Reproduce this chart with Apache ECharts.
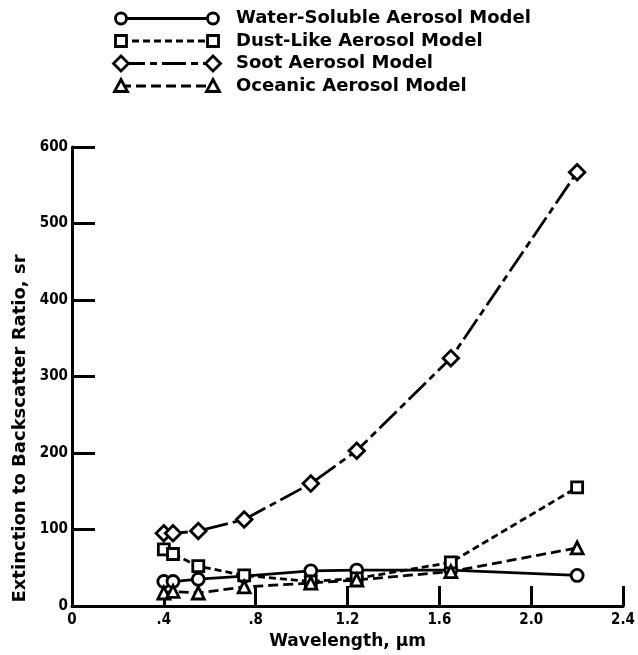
<!DOCTYPE html>
<html>
<head>
<meta charset="utf-8">
<script src="https://cdn.jsdelivr.net/npm/echarts@6/dist/echarts.min.js"></script>
<style>
  html, body { margin: 0; padding: 0; background: #fff; }
  #chart { width: 638px; height: 655px; }
</style>
</head>
<body>
<div id="chart"></div>
<script>
// wavelength (um) and extinction-to-backscatter ratio (sr)
const wavelengths = [0.40, 0.44, 0.55, 0.75, 1.04, 1.24, 1.65, 2.20];
const waterSoluble = [32, 32, 35, 39, 46, 47, 47, 40];
const dustLike = [74, 68, 52, 40, 32, 36, 57, 155];
const soot = [95, 95, 98, 113, 160, 203, 324, 567];
const oceanic = [17, 19, 17, 25, 30, 34, 45, 76];

const xTickLabels = ['0', '.4', '.8', '1.2', '1.6', '2.0', '2.4'];
const yTickLabels = ['0', '100', '200', '300', '400', '500', '600'];

const seriesNames = [
    'Water-Soluble Aerosol Model',
    'Dust-Like Aerosol Model',
    'Soot Aerosol Model',
    'Oceanic Aerosol Model'
];

const FONT = '"DejaVu Sans", sans-serif';
const FONT_NUM = '"DejaVu Sans Condensed", "DejaVu Sans", sans-serif';
const dashes = {
    solid: 'solid',
    dust: [7, 4],
    soot: [24, 5, 7, 5],
    ocean: [10, 5]
};

function pairs(vals) {
    return wavelengths.map((w, i) => [w, vals[i]]);
}

function lineSeries(name, vals, symbol, size, dash, rotate) {
    return {
        name: name,
        type: 'line',
        data: pairs(vals),
        symbol: symbol,
        symbolSize: size,
        symbolRotate: rotate || 0,
        showAllSymbol: true,
        lineStyle: { color: '#000', width: 2.8, type: dash },
        itemStyle: { color: '#fff', borderColor: '#000', borderWidth: 2.8 },
        emphasis: { disabled: true },
        animation: false
    };
}

// legend drawn by hand: marker -- line -- marker, text
function legendRow(i, y, dash, marker) {
    const x1 = 121, x2 = 213;
    const els = [{
        type: 'line',
        shape: { x1: x1, y1: y, x2: x2, y2: y },
        style: { stroke: '#000', lineWidth: 2.8, lineDash: dash === 'solid' ? null : dash }
    }];
    [x1, x2].forEach(function (cx) {
        let m;
        if (marker === 'circle') {
            m = { type: 'circle', shape: { cx: cx, cy: y, r: 5.5 } };
        } else if (marker === 'square') {
            m = { type: 'rect', shape: { x: cx - 5.5, y: y - 5.5, width: 11, height: 11 } };
        } else if (marker === 'diamond') {
            m = { type: 'polygon', shape: { points: [[cx, y - 7.5], [cx + 7.5, y], [cx, y + 7.5], [cx - 7.5, y]] } };
        } else {
            m = { type: 'polygon', shape: { points: [[cx, y - 6.5], [cx + 6.5, y + 5.5], [cx - 6.5, y + 5.5]] } };
        }
        m.style = { fill: '#fff', stroke: '#000', lineWidth: 2.8 };
        m.z = 10;
        els.push(m);
    });
    els.push({
        type: 'text',
        style: {
            text: seriesNames[i], x: 236, y: y,
            verticalAlign: 'middle', fill: '#000',
            font: 'bold 18px ' + FONT
        }
    });
    return els;
}

const legendEls = [].concat(
    legendRow(0, 18.5, dashes.solid, 'circle'),
    legendRow(1, 41, dashes.dust, 'square'),
    legendRow(2, 63.5, dashes.soot, 'diamond'),
    legendRow(3, 86, dashes.ocean, 'triangle')
);

const chart = echarts.init(document.getElementById('chart'));
chart.setOption({
    animation: false,
    backgroundColor: '#fff',
    grid: { left: 72, right: 14, top: 147, bottom: 45 },
    xAxis: {
        type: 'value',
        min: 0, max: 2.4, interval: 0.4,
        name: 'Wavelength, \u03bcm',
        nameLocation: 'middle',
        nameGap: 27,
        nameTextStyle: { color: '#000', fontFamily: FONT, fontWeight: 'bold', fontSize: 17 },
        axisLine: { lineStyle: { color: '#000', width: 3 } },
        axisTick: { inside: true, length: 20, lineStyle: { color: '#000', width: 3 } },
        axisLabel: {
            color: '#000', fontFamily: FONT_NUM, fontWeight: 'bold', fontSize: 15, margin: 7,
            formatter: function (v, idx) { return xTickLabels[idx]; }
        },
        splitLine: { show: false }
    },
    yAxis: {
        type: 'value',
        min: 0, max: 600, interval: 100,
        name: 'Extinction to Backscatter Ratio, sr',
        nameLocation: 'middle',
        nameGap: 40,
        nameRotate: 90,
        nameTextStyle: { color: '#000', fontFamily: FONT, fontWeight: 'bold', fontSize: 18, padding: [0, 104, 0, 0] },
        axisLine: { lineStyle: { color: '#000', width: 3 } },
        axisTick: { inside: true, length: 23, lineStyle: { color: '#000', width: 3 } },
        axisLabel: {
            color: '#000', fontFamily: FONT_NUM, fontWeight: 'bold', fontSize: 15, margin: 4,
            formatter: function (v, idx) { return yTickLabels[idx]; }
        },
        splitLine: { show: false }
    },
    graphic: legendEls,
    series: [
        lineSeries(seriesNames[0], waterSoluble, 'circle', 12, dashes.solid),
        lineSeries(seriesNames[1], dustLike, 'rect', 11, dashes.dust),
        lineSeries(seriesNames[2], soot, 'rect', 11, dashes.soot, 45),
        lineSeries(seriesNames[3], oceanic, 'triangle', 12, dashes.ocean)
    ]
});
</script>
</body>
</html>
